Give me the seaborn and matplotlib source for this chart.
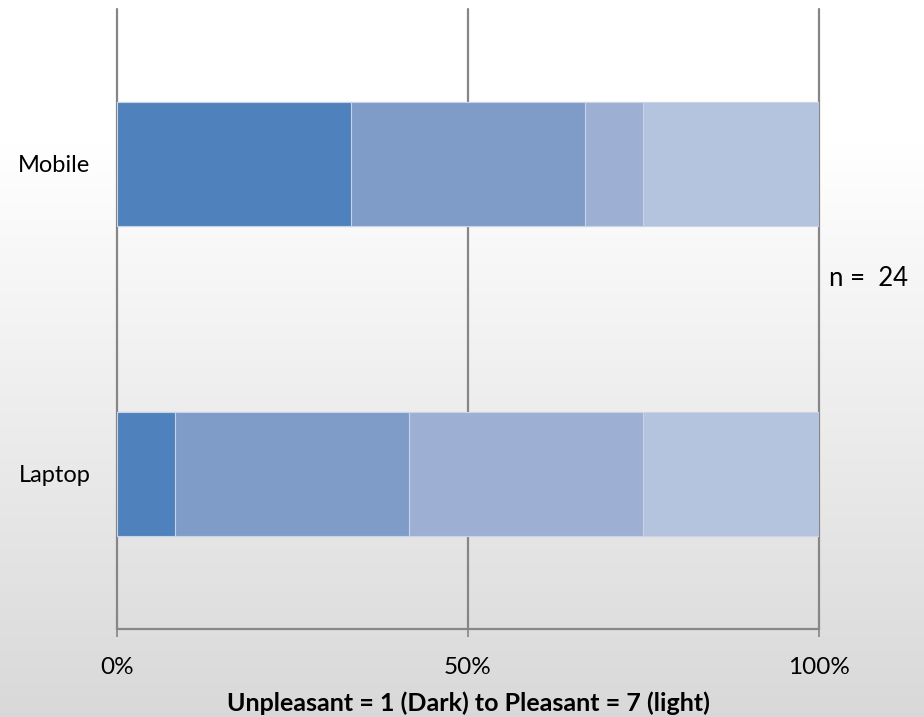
import numpy as np
import matplotlib
matplotlib.use("Agg")
import matplotlib.pyplot as plt
import seaborn as sns

# Responses per device, counted from unpleasant (dark) to pleasant (light)
devices = ["Mobile", "Laptop"]
mobile_counts = [8, 8, 2, 6]
laptop_counts = [2, 8, 8, 6]
n_total = 24
shade_colors = ["#4F81BD", "#7F9BC8", "#9DB0D3", "#B4C3DE"]
tick_values = [0, 50, 100]
tick_labels = ["0%", "50%", "100%"]
x_label = "Unpleasant = 1 (Dark) to Pleasant = 7 (light)"

sns.set_theme(style="white")
plt.rcParams["font.family"] = ["Lato", "DejaVu Sans"]
plt.rcParams["text.color"] = "black"
plt.rcParams["xtick.color"] = "black"
plt.rcParams["ytick.color"] = "black"
plt.rcParams["axes.labelcolor"] = "black"

fig = plt.figure(figsize=(9.24, 7.17), dpi=100)

# soft vertical gradient behind everything
bg = fig.add_axes([0, 0, 1, 1], zorder=-10)
t = np.linspace(0, 1, 256).reshape(-1, 1)
grad = np.where(t < 0.2, 1.0, 1.0 - (t - 0.2) / 0.8 * 0.15)
bg.imshow(np.dstack([grad, grad, grad]), aspect="auto", extent=[0, 1, 0, 1])
bg.axis("off")

ax = fig.add_axes([117 / 924, 1 - 629 / 717, (819 - 117) / 924, (629 - 9) / 717])
ax.patch.set_alpha(0)

pct = {
    "Mobile": np.array(mobile_counts) / n_total * 100,
    "Laptop": np.array(laptop_counts) / n_total * 100,
}
cum = {d: np.cumsum(pct[d]) for d in devices}

# stacked bars: draw the widest cumulative level first, narrower ones on top
for i in reversed(range(len(shade_colors))):
    sns.barplot(x=[cum[d][i] for d in devices], y=devices, orient="h",
                width=0.4, color=shade_colors[i], saturation=1,
                edgecolor="#C9D4E8", linewidth=0.8, ax=ax, zorder=3)

ax.set_xlim(0, 100)
ax.set_ylim(1.5, -0.5)
ax.set_xticks(tick_values)
ax.set_xticklabels(tick_labels, fontsize=17.5)
ax.grid(axis="x", color="#868686", linewidth=1.6, zorder=1)
for gl in ax.get_xgridlines():
    gl.set_clip_on(False)
ax.set_axisbelow(True)
ax.tick_params(axis="x", which="both", bottom=True, length=6, width=1.2,
               color="#868686", pad=14)
ax.tick_params(axis="y", length=0, pad=19, labelsize=17)
for s in ["top", "right", "left"]:
    ax.spines[s].set_visible(False)
ax.spines["bottom"].set_color("#868686")
ax.spines["bottom"].set_linewidth(1.6)
ax.set_ylabel("")
ax.set_xlabel(x_label, fontsize=18, fontweight="bold", labelpad=10)

ax.text(101.4, 0.37, f"n =  {n_total}", fontsize=18.5, ha="left", va="center",
        clip_on=False)

fig.savefig("out.png", dpi=100)
